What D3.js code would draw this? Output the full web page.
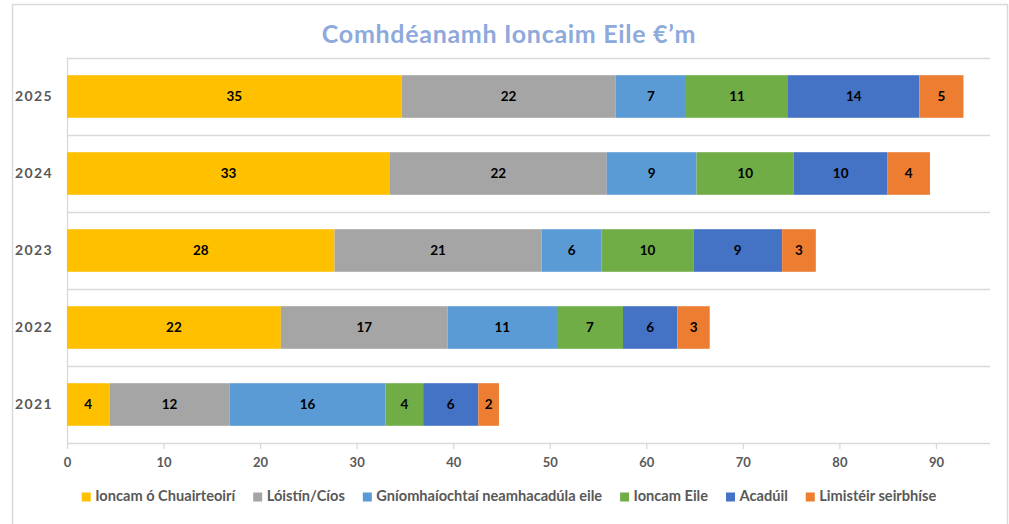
<!DOCTYPE html>
<html>
<head>
<meta charset="utf-8">
<script src="https://cdn.jsdelivr.net/npm/d3@7"></script>
<style>
  body { margin: 0; background: #fff; }
  text { font-family: Lato, "Open Sans", sans-serif; }
</style>
</head>
<body>
<svg width="1009" height="524"></svg>
<script>
var years = ["2025", "2024", "2023", "2022", "2021"];
var series = ["Ioncam ó Chuairteoirí", "Lóistín/Cíos", "Gníomhaíochtaí neamhacadúla eile", "Ioncam Eile", "Acadúil", "Limistéir seirbhíse"];
var colors = ["#FFC000", "#A5A5A5", "#5B9BD5", "#70AD47", "#4472C4", "#ED7D31"];

// one array per series, same order as years
var visitors = [34.65, 33.45, 27.71, 22.15, 4.4];
var rent     = [22.18, 22.45, 21.45, 17.27, 12.43];
var nonAcad  = [7.28, 9.3, 6.22, 11.33, 16.17];
var other    = [10.57, 10.08, 9.5, 6.84, 3.89];
var academic = [13.61, 9.71, 9.19, 5.63, 5.71];
var service  = [4.56, 4.39, 3.49, 3.35, 2.14];
var xTicks = [0, 10, 20, 30, 40, 50, 60, 70, 80, 90];

var values = [visitors, rent, nonAcad, other, academic, service];

var svg = d3.select("svg"),
    margin = {top: 58, right: 19, bottom: 81, left: 67},
    width = +svg.attr("width") - margin.left - margin.right,
    height = +svg.attr("height") - margin.top - margin.bottom;

// outer frame
svg.append("rect")
    .attr("x", 12.5).attr("y", 4.5)
    .attr("width", 995).attr("height", 530)
    .attr("fill", "none")
    .attr("stroke", "#d9d9d9")
    .attr("stroke-width", 1.5);

svg.append("text")
    .attr("x", 509)
    .attr("y", 43)
    .attr("text-anchor", "middle")
    .attr("font-size", 25)
    .attr("font-weight", "bold")
    .attr("letter-spacing", 0.7)
    .attr("fill", "#8EA9DB")
    .text("Comhdéanamh Ioncaim Eile €’m");

var x = d3.scaleLinear().domain([0, 95.6]).range([0, width]);
var y = d3.scaleBand().domain(years).range([0, height]).paddingInner(0.447).paddingOuter(0.2235);
var band = d3.scaleBand().domain(years).range([0, height]);

var g = svg.append("g").attr("transform", "translate(" + margin.left + "," + margin.top + ")");

// category gridlines
g.selectAll(".grid")
    .data(years)
    .enter().append("line")
    .attr("x1", 0).attr("x2", width)
    .attr("y1", function(d) { return band(d) + 0.5; })
    .attr("y2", function(d) { return band(d) + 0.5; })
    .attr("stroke", "#d9d9d9")
    .attr("stroke-width", 1.3);

g.append("line")
    .attr("x1", 0.5).attr("x2", 0.5)
    .attr("y1", 0).attr("y2", height)
    .attr("stroke", "#d9d9d9")
    .attr("stroke-width", 1.3);

// stacked data
var rows = years.map(function(yr, i) {
    var row = {year: yr};
    series.forEach(function(s, j) { row[s] = values[j][i]; });
    return row;
});
var stacked = d3.stack().keys(series)(rows);

var layer = g.selectAll(".layer")
    .data(stacked)
    .enter().append("g")
    .attr("fill", function(d, i) { return colors[i]; });

layer.selectAll("rect")
    .data(function(d) { return d; })
    .enter().append("rect")
    .attr("x", function(d) { return x(d[0]); })
    .attr("y", function(d) { return y(d.data.year); })
    .attr("width", function(d) { return x(d[1]) - x(d[0]); })
    .attr("height", y.bandwidth());

layer.selectAll("text")
    .data(function(d) { return d; })
    .enter().append("text")
    .attr("x", function(d) { return (x(d[0]) + x(d[1])) / 2; })
    .attr("y", function(d) { return y(d.data.year) + y.bandwidth() / 2; })
    .attr("dy", "0.35em")
    .attr("text-anchor", "middle")
    .attr("font-size", 13.5)
    .attr("font-weight", "bold")
    .attr("fill", "#000")
    .text(function(d) { return d3.format(".0f")(d[1] - d[0]); });

// x axis
var xAxis = g.append("g")
    .attr("transform", "translate(0," + height + ")")
    .call(d3.axisBottom(x).tickValues(xTicks).tickSize(6).tickPadding(9));
xAxis.select(".domain").attr("stroke", "#d9d9d9").attr("stroke-width", 1.3).attr("d", "M0,0.5H" + width);
xAxis.selectAll(".tick line").attr("stroke", "#d9d9d9").attr("stroke-width", 1.3);
xAxis.selectAll(".tick text")
    .attr("font-family", "Lato, sans-serif")
    .attr("font-size", 13)
    .attr("font-weight", "bold")
    .attr("fill", "#595959");

// y axis labels
g.selectAll(".ylab")
    .data(years)
    .enter().append("text")
    .attr("x", -14)
    .attr("y", function(d) { return band(d) + band.bandwidth() / 2; })
    .attr("dy", "0.35em")
    .attr("text-anchor", "end")
    .attr("font-size", 14)
    .attr("font-weight", "bold")
    .attr("letter-spacing", 1.4)
    .attr("fill", "#595959")
    .text(function(d) { return d; });

// legend
var legend = svg.append("g").attr("transform", "translate(0,501)");
var items = legend.selectAll(".item")
    .data(series)
    .enter().append("g");
items.append("rect")
    .attr("y", -8.5)
    .attr("width", 9).attr("height", 9)
    .attr("fill", function(d, i) { return colors[i]; });
items.append("text")
    .attr("x", 13.5)
    .attr("font-size", 14.6)
    .attr("font-weight", "bold")
    .attr("fill", "#595959")
    .text(function(d) { return d; });

var gap = 18, pos = [], total = 0;
items.each(function() {
    var w = 13.5 + d3.select(this).select("text").node().getComputedTextLength();
    pos.push(total);
    total += w + gap;
});
total -= gap;
var start = 509 - total / 2;
items.attr("transform", function(d, i) { return "translate(" + (start + pos[i]) + ",0)"; });
</script>
</body>
</html>
